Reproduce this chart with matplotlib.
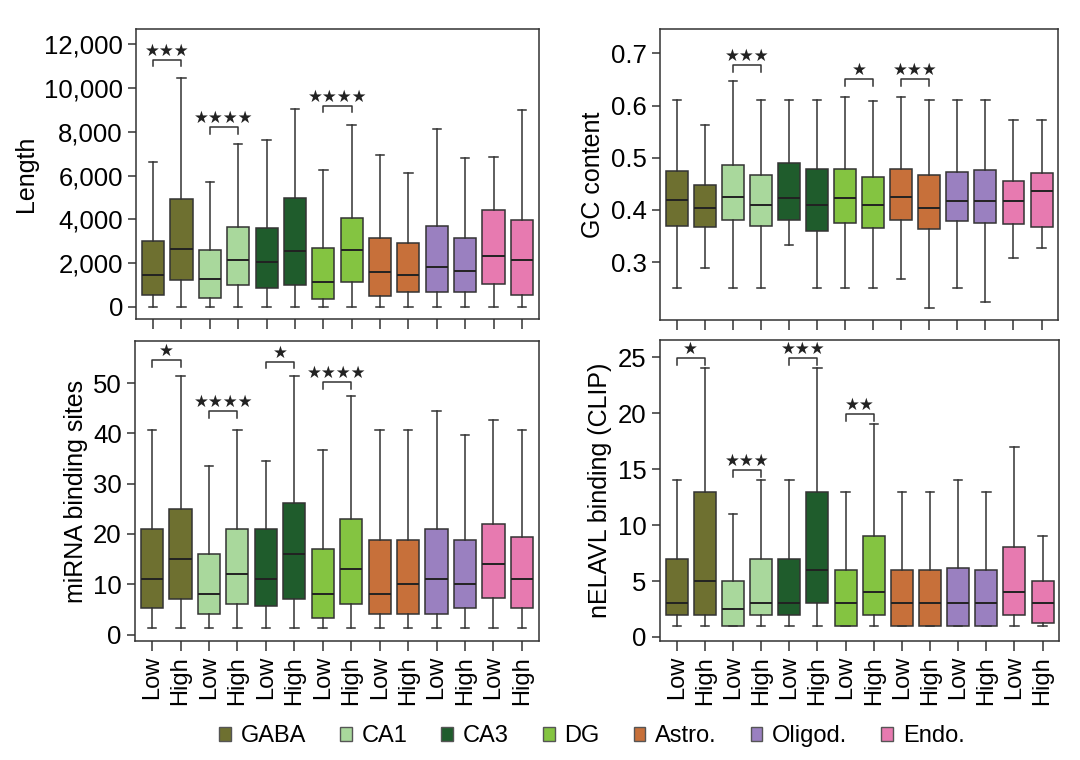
import numpy as np
import matplotlib
matplotlib.use("Agg")
import matplotlib.pyplot as plt
from matplotlib.patches import Patch
from matplotlib.ticker import FuncFormatter

plt.rcParams["font.family"] = ["Liberation Sans", "DejaVu Sans"]

cell_types = ["GABA", "CA1", "CA3", "DG", "Astro.", "Oligod.", "Endo."]
colors = ["#6e7030", "#a9d89c", "#1f5c2c", "#84c441", "#c7703a", "#9a80c0", "#e77ab0"]
levels = ["Low", "High"]

# box stats per panel, 14 boxes each (Low/High per cell type): whislo, q1, med, q3, whishi
length_lo = [0] * 14
length_q1 = [530, 1220, 430, 1000, 880, 1000, 350, 1140, 520, 660, 690, 690, 1070, 530]
length_med = [1450, 2640, 1260, 2130, 2070, 2560, 1130, 2600, 1610, 1480, 1830, 1650, 2330, 2150]
length_q3 = [3020, 4920, 2600, 3630, 3600, 4970, 2710, 4040, 3140, 2940, 3690, 3140, 4450, 3990]
length_hi = [6600, 10450, 5700, 7420, 7620, 9060, 6260, 8330, 6930, 6140, 8120, 6790, 6870, 8990]

gc_lo = [0.251, 0.289, 0.251, 0.251, 0.332, 0.251, 0.251, 0.251, 0.267, 0.211, 0.251, 0.224, 0.307, 0.326]
gc_q1 = [0.369, 0.367, 0.380, 0.369, 0.380, 0.360, 0.375, 0.366, 0.380, 0.363, 0.378, 0.375, 0.372, 0.368]
gc_med = [0.419, 0.403, 0.425, 0.409, 0.423, 0.409, 0.423, 0.409, 0.425, 0.404, 0.418, 0.418, 0.418, 0.436]
gc_q3 = [0.474, 0.447, 0.487, 0.467, 0.490, 0.478, 0.478, 0.463, 0.478, 0.467, 0.472, 0.477, 0.456, 0.470]
gc_hi = [0.611, 0.562, 0.647, 0.611, 0.611, 0.611, 0.617, 0.608, 0.617, 0.611, 0.611, 0.611, 0.572, 0.572]

mirna_lo = [1.3] * 14
mirna_q1 = [5.3, 7.1, 4.2, 6.1, 5.7, 7.1, 3.3, 6.1, 4.2, 4.2, 4.2, 5.3, 7.2, 5.3]
mirna_med = [11.1, 15.0, 8.1, 12.0, 11.1, 16.0, 8.1, 13.1, 8.1, 10.1, 11.1, 10.1, 14.0, 11.1]
mirna_q3 = [20.9, 24.9, 16.0, 20.9, 20.9, 26.1, 17.0, 22.9, 18.9, 18.9, 20.9, 18.9, 21.9, 19.4]
mirna_hi = [40.6, 51.3, 33.6, 40.6, 34.6, 51.3, 36.6, 47.5, 40.6, 40.6, 44.5, 39.6, 42.6, 40.6]

elavl_lo = [1] * 14
elavl_q1 = [2, 2, 1, 2, 2, 3, 1, 2, 1, 1, 1, 1, 2, 1.25]
elavl_med = [3, 5, 2.5, 3, 3, 6, 3, 4, 3, 3, 3, 3, 4, 3]
elavl_q3 = [7, 13, 5, 7, 7, 13, 6, 9, 6, 6, 6.2, 6, 8, 5]
elavl_hi = [14, 24, 11, 14, 14, 24, 13, 19, 13, 13, 14, 13, 17, 9]

# significance: (cell type index, bracket height, number of stars)
length_sig = [(0, 11300, 3), (1, 8200, 4), (3, 9200, 4)]
gc_sig = [(1, 0.678, 3), (3, 0.651, 1), (4, 0.651, 3)]
mirna_sig = [(0, 54.5, 1), (1, 44.4, 4), (2, 54.2, 1), (3, 50.2, 4)]
elavl_sig = [(0, 24.9, 1), (1, 14.9, 3), (2, 24.9, 3), (3, 19.9, 2)]

panels = [
    dict(lo=length_lo, q1=length_q1, med=length_med, q3=length_q3, hi=length_hi,
         sig=length_sig, ylabel="Length", ylim=(-560, 12700), yticks=np.arange(0, 12001, 2000),
         tick=300, comma=True, xlabels=False, pos=[0.126, 0.580, 0.373, 0.382]),
    dict(lo=gc_lo, q1=gc_q1, med=gc_med, q3=gc_q3, hi=gc_hi,
         sig=gc_sig, ylabel="GC content", ylim=(0.189, 0.747), yticks=[0.3, 0.4, 0.5, 0.6, 0.7],
         tick=0.013, comma=False, xlabels=False, pos=[0.611, 0.579, 0.369, 0.383]),
    dict(lo=mirna_lo, q1=mirna_q1, med=mirna_med, q3=mirna_q3, hi=mirna_hi,
         sig=mirna_sig, ylabel="miRNA binding sites", ylim=(-1.2, 58.3), yticks=np.arange(0, 51, 10),
         tick=1.3, comma=False, xlabels=True, pos=[0.125, 0.157, 0.374, 0.394]),
    dict(lo=elavl_lo, q1=elavl_q1, med=elavl_med, q3=elavl_q3, hi=elavl_hi,
         sig=elavl_sig, ylabel="nELAVL binding (CLIP)", ylim=(-0.33, 26.5), yticks=np.arange(0, 26, 5),
         tick=0.6, comma=False, xlabels=True, pos=[0.611, 0.157, 0.370, 0.395]),
]

fig = plt.figure(figsize=(10.8, 7.6), dpi=100)
positions = np.arange(14)
box_colors = [c for c in colors for _ in levels]

for p in panels:
    ax = fig.add_axes(p["pos"])
    stats = [dict(whislo=a, q1=b, med=c, q3=d, whishi=e)
             for a, b, c, d, e in zip(p["lo"], p["q1"], p["med"], p["q3"], p["hi"])]
    bp = ax.bxp(stats, positions=positions, widths=0.78, showfliers=False, patch_artist=True,
                boxprops=dict(edgecolor="#333333", linewidth=1.1),
                medianprops=dict(color="#222222", linewidth=1.4),
                whiskerprops=dict(color="#333333", linewidth=1.1),
                capprops=dict(color="#333333", linewidth=1.1), capwidths=0.3)
    for patch, col in zip(bp["boxes"], box_colors):
        patch.set_facecolor(col)

    for idx, y, n in p["sig"]:
        x0, x1 = 2 * idx, 2 * idx + 1
        ax.plot([x0, x0, x1, x1], [y - p["tick"], y, y, y - p["tick"]], color="#333333", lw=1.1)
        ax.text((x0 + x1) / 2, y, "\u2605" * n, ha="center", va="bottom", fontsize=12,
                family="DejaVu Sans", color="#222222")

    ax.set_xlim(-0.6, 13.6)
    ax.set_ylim(*p["ylim"])
    ax.set_yticks(p["yticks"])
    if p["comma"]:
        ax.yaxis.set_major_formatter(FuncFormatter(lambda v, _: f"{int(v):,}"))
    ax.set_xticks(positions)
    if p["xlabels"]:
        ax.set_xticklabels(levels * 7, rotation=90)
    else:
        ax.set_xticklabels([])
    ax.tick_params(axis="x", labelsize=17, length=7, width=1.1, color="#333333", pad=4)
    ax.tick_params(axis="y", labelsize=18.5, length=6, width=1.1, color="#333333")
    ax.set_ylabel(p["ylabel"], fontsize=18)
    for s in ax.spines.values():
        s.set_linewidth(1.1)
        s.set_color("#333333")

handles = [Patch(facecolor=c, edgecolor="#555555", label=t) for c, t in zip(colors, cell_types)]
fig.legend(handles=handles, loc="center", bbox_to_anchor=(0.548, 0.031), ncol=7, frameon=False,
           fontsize=17, handlelength=0.5, handleheight=0.5, handletextpad=0.4, columnspacing=1.45)

fig.savefig("out.png", dpi=100)
